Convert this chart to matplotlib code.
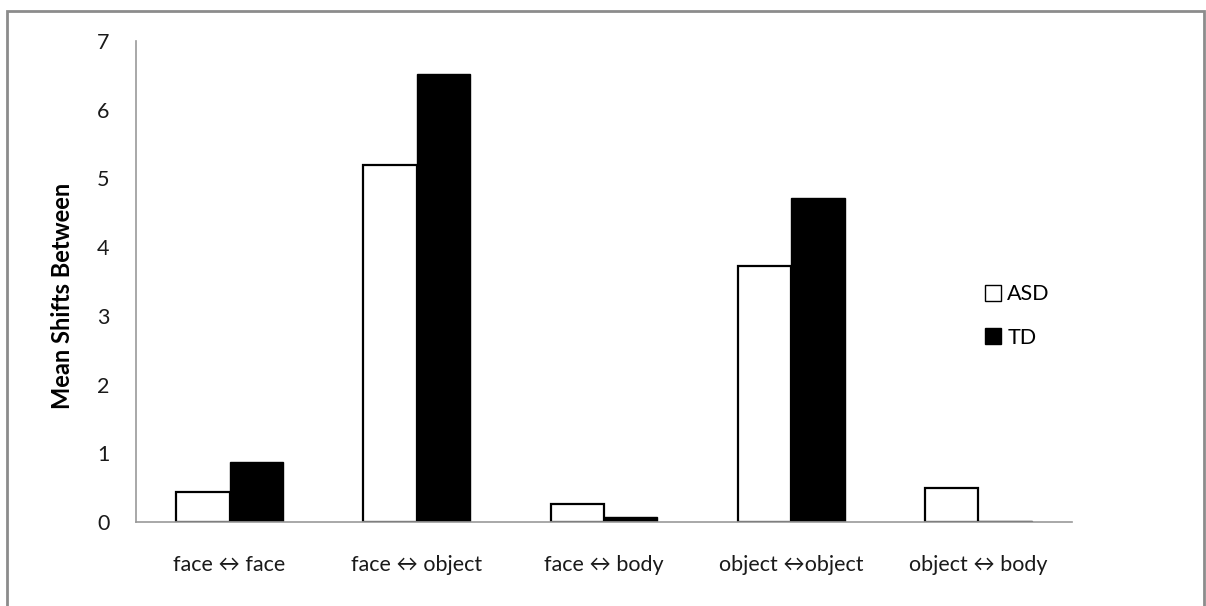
import matplotlib
matplotlib.use("Agg")
import matplotlib.pyplot as plt
import numpy as np
from matplotlib.patches import Rectangle
from matplotlib.lines import Line2D

categories = ["face \u2194 face", "face \u2194 object", "face \u2194 body", "object \u2194object", "object \u2194 body"]
asd = [0.43, 5.2, 0.26, 3.72, 0.5]
td = [0.87, 6.52, 0.07, 4.72, 0.01]
series_names = ["ASD", "TD"]
yticks = [0, 1, 2, 3, 4, 5, 6, 7]

plt.rcParams['font.family'] = ['Lato', 'Noto Sans CJK SC', 'DejaVu Sans']

fig = plt.figure(figsize=(12.06, 6.06), dpi=100)
ax = fig.add_axes([136/1206, 1-522/606, (1072-136)/1206, (522-41)/606])

x = np.arange(len(categories))
w = 0.285
ax.bar(x - w/2, asd, w, color='white', edgecolor='black', linewidth=1.6, label=series_names[0])
ax.bar(x + w/2, td, w, color='black', edgecolor='black', linewidth=1.0, label=series_names[1])

ax.set_xlim(-0.5, len(categories) - 0.5)
ax.set_ylim(0, 7)
ax.set_yticks(yticks)
ax.set_xticks(x)
ax.set_xticklabels(categories, fontsize=15.5)
ax.tick_params(axis='both', length=0, labelsize=15.5, colors='#1a1a1a')
ax.tick_params(axis='x', pad=24)
ax.tick_params(axis='y', pad=19)
for s in ['top', 'right']:
    ax.spines[s].set_visible(False)
for s in ['left', 'bottom']:
    ax.spines[s].set_color('#999999')
    ax.spines[s].set_linewidth(1.2)

ax.set_ylabel("Mean Shifts Between", fontsize=17, fontweight='bold', labelpad=14)
ax.yaxis.set_label_coords(-62/936, 0.47)

handles = [Line2D([0], [0], marker='s', linestyle='none', markersize=12,
                  markerfacecolor='white', markeredgecolor='black', markeredgewidth=1.0),
           Line2D([0], [0], marker='s', linestyle='none', markersize=12,
                  markerfacecolor='black', markeredgecolor='black')]
fig.legend(handles, series_names, loc='center left', bbox_to_anchor=(962/1206, 1-316/606),
           frameon=False, fontsize=15.5, handletextpad=0.1, labelspacing=1.1, handlelength=1.1)

fig.patches.append(Rectangle((7/1206, -0.02), (1204-7)/1206, 1-11/606+0.02,
                             transform=fig.transFigure, fill=False,
                             edgecolor='#8c8c8c', linewidth=2))

fig.savefig("out.png", dpi=100)
